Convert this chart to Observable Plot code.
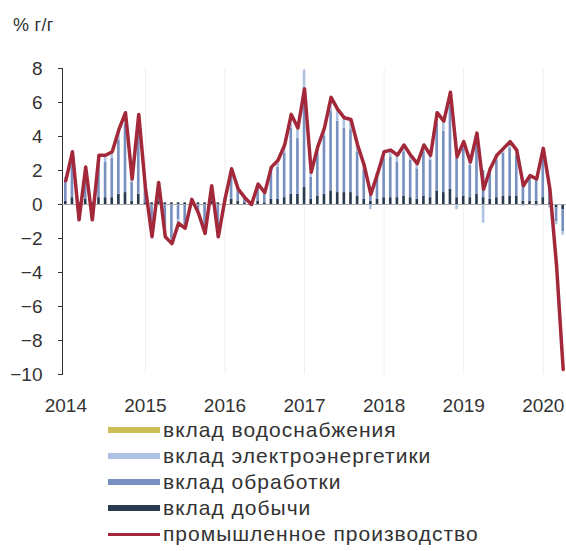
<!DOCTYPE html>
<html>
<head>
<meta charset="utf-8">
<script src="https://cdn.jsdelivr.net/npm/d3@7"></script>
<script src="https://cdn.jsdelivr.net/npm/@observablehq/plot@0.6"></script>
<style>
  html, body { margin: 0; padding: 0; background: #fff; }
  body { width: 566px; height: 551px; position: relative; overflow: hidden;
         font-family: "Liberation Sans", Arial, sans-serif; color: #333; }
  #unit { position: absolute; left: 13px; top: 15px; font-size: 18px; color: #333; letter-spacing: 0.3px; }
  #legend { position: absolute; left: 108px; top: 417px; }
  .row { height: 26px; display: flex; align-items: center; font-size: 21px; letter-spacing: 1px; color: #333; white-space: nowrap; }
  .sw { width: 52px; height: 6px; margin-right: 3px; flex: none; }
  .ln { width: 52px; height: 3px; margin-right: 3px; flex: none; }
</style>
</head>
<body>
<div id="chart"></div>
<div id="unit">% г/г</div>
<div id="legend"></div>
<script>
// Months Jan 2014 – Apr 2020
const years = ["2014","2015","2016","2017","2018","2019","2020"];
const months = [];
for (const y of years) for (let m = 1; m <= 12; m++) {
  if (y === "2020" && m > 4) break;
  months.push(y + "-" + String(m).padStart(2, "0"));
}
const yearTicks = years.map(y => y + "-01");
const yTicks = [-10, -8, -6, -4, -2, 0, 2, 4, 6, 8];

// Industrial production, % y/y (red line)
const industry = [
  1.4, 3.1, -0.9, 2.2, -0.9, 2.9, 2.9, 3.1, 4.4, 5.4, 1.5, 5.3,
  1.0, -1.9, 1.3, -1.9, -2.3, -1.1, -1.4, 0.3, -0.5, -1.7, 1.1, -1.9,
  0.3, 2.1, 0.9, 0.4, 0.0, 1.2, 0.7, 2.2, 2.6, 3.5, 5.3, 4.5,
  6.8, 1.9, 3.4, 4.5, 6.3, 5.6, 5.1, 5.0, 3.5, 2.3, 0.6, 1.8,
  3.1, 3.2, 2.9, 3.5, 2.9, 2.4, 3.5, 2.9, 5.4, 4.9, 6.6, 2.8,
  3.7, 2.5, 4.2, 0.9, 2.1, 2.9, 3.3, 3.7, 3.2, 1.1, 1.7, 1.5,
  3.3, 0.9, -3.6, -9.7
];
// Contribution of mining, p.p.
const mining = [
  0.2, 0.4, 0.1, 0.3, 0.1, 0.4, 0.4, 0.4, 0.6, 0.7, 0.2, 0.6,
  0.1, 0.1, 0.2, 0.1, 0.1, 0.1, 0.1, 0.1, 0.1, 0.1, 0.2, 0.1,
  0.2, 0.3, 0.2, 0.1, 0.1, 0.2, 0.1, 0.3, 0.3, 0.4, 0.6, 0.6,
  1.0, 0.3, 0.5, 0.6, 0.8, 0.7, 0.7, 0.7, 0.5, 0.3, 0.2, 0.3,
  0.4, 0.4, 0.4, 0.5, 0.4, 0.3, 0.5, 0.4, 0.8, 0.7, 0.9, 0.4,
  0.5, 0.4, 0.6, 0.4, 0.3, 0.4, 0.5, 0.5, 0.5, 0.2, 0.2, 0.2,
  0.4, 0.1, -0.2, -0.3
];
// Contribution of manufacturing, p.p.
const manufacturing = [
  1.2, 2.3, -0.7, 1.6, -0.7, 2.1, 2.1, 2.3, 3.2, 4.0, 1.1, 3.9,
  0.7, -1.6, 0.9, -1.7, -2.0, -0.9, -1.2, 0.2, -0.4, -1.5, 0.7, -1.7,
  0.1, 1.5, 0.6, 0.3, 0.0, 0.8, 0.5, 1.6, 1.9, 2.6, 3.9, 3.3,
  5.9, 1.3, 2.5, 3.4, 4.7, 4.2, 3.8, 3.7, 2.6, 1.7, 0.7, 1.3,
  2.3, 2.4, 2.1, 2.6, 2.2, 1.8, 2.6, 2.2, 4.0, 3.6, 4.9, 2.3,
  2.8, 1.9, 3.1, 1.6, 1.6, 2.2, 2.5, 2.8, 2.4, 1.0, 1.4, 1.4,
  2.7, 1.0, -0.8, -1.3
];
// Contribution of electricity, p.p.
const electricity = [
  0.2, 0.3, -0.3, 0.2, -0.3, 0.3, 0.3, 0.3, 0.5, 0.6, 0.2, 0.7,
  0.2, -0.3, 0.2, -0.2, -0.3, -0.2, -0.2, 0.0, -0.2, -0.2, 0.2, -0.3,
  0.0, 0.3, 0.1, 0.0, -0.1, 0.2, 0.1, 0.3, 0.3, 0.4, 0.7, 0.5,
  1.0, 0.3, 0.3, 0.4, 0.7, 0.6, 0.5, 0.5, 0.3, 0.3, -0.3, 0.3,
  0.4, 0.4, 0.4, 0.4, 0.3, 0.3, 0.4, 0.3, 0.5, 0.5, 0.7, -0.3,
  0.4, 0.2, 0.4, -1.1, 0.2, 0.3, 0.3, 0.4, 0.3, -0.1, 0.1, -0.1,
  0.2, -0.2, -0.2, -0.2
];
// Contribution of water supply, p.p.
const water = [
  0.0, 0.1, 0.0, 0.1, 0.0, 0.1, 0.1, 0.1, 0.1, 0.1, 0.0, 0.1,
  0.0, 0.0, 0.0, 0.0, 0.0, 0.0, 0.0, 0.0, 0.0, 0.0, 0.0, 0.0,
  0.0, 0.0, 0.0, 0.0, 0.0, 0.0, 0.0, 0.0, 0.1, 0.1, 0.1, 0.1,
  0.0, 0.0, 0.1, 0.1, 0.1, 0.1, 0.1, 0.1, 0.1, 0.0, 0.0, 0.0,
  0.0, 0.0, 0.0, 0.0, 0.0, 0.0, 0.0, 0.0, 0.1, 0.1, 0.1, 0.0,
  0.0, 0.0, 0.1, 0.0, 0.0, 0.0, 0.0, 0.0, 0.0, 0.0, 0.0, 0.0,
  0.0, 0.0, 0.0, 0.0
];

const seriesNames = ["вклад добычи", "вклад обработки", "вклад электроэнергетики", "вклад водоснабжения"];
const seriesColors = ["#2a3a4f", "#7890c0", "#aec3e2", "#cdbd55"];
const lineName = "промышленное производство";
const lineColor = "#a3283a";

const stackRows = [];
months.forEach((m, i) => {
  [mining, manufacturing, electricity, water].forEach((arr, k) => {
    stackRows.push({month: m, series: seriesNames[k], value: arr[i]});
  });
});
const lineRows = months.map((m, i) => ({month: m, value: industry[i]}));

const chart = Plot.plot({
  width: 566,
  height: 418,
  marginLeft: 62,
  marginRight: 0,
  marginTop: 68,
  marginBottom: 44,
  style: {fontFamily: "'Liberation Sans', Arial, sans-serif", fontSize: "19px", color: "#333", background: "#fff"},
  x: {type: "band", domain: months, padding: 0, ticks: yearTicks, tickFormat: d => d.slice(0, 4), tickSize: 0, tickPadding: 24, label: null},
  y: {domain: [-10, 8], ticks: yTicks, tickSize: 4, tickPadding: 16, label: null, line: true},
  color: {domain: seriesNames, range: seriesColors},
  marks: [
    Plot.ruleX(yearTicks.slice(1), {x: d => d, stroke: "#efefef", strokeWidth: 1}),
    Plot.barY(stackRows, Plot.stackY({x: "month", y: "value", fill: "series", insetLeft: 2, insetRight: 2})),
    Plot.ruleY([0], {stroke: "#aaa", strokeWidth: 1}),
    Plot.line(lineRows, {x: "month", y: "value", stroke: lineColor, strokeWidth: 3.5, strokeLinejoin: "round"})
  ]
});
document.getElementById("chart").appendChild(chart);

const legend = document.getElementById("legend");
const items = [
  {name: "вклад водоснабжения", color: seriesColors[3], type: "sw"},
  {name: "вклад электроэнергетики", color: seriesColors[2], type: "sw"},
  {name: "вклад обработки", color: seriesColors[1], type: "sw"},
  {name: "вклад добычи", color: seriesColors[0], type: "sw"},
  {name: lineName, color: lineColor, type: "ln"}
];
for (const it of items) {
  const row = document.createElement("div");
  row.className = "row";
  const s = document.createElement("span");
  s.className = it.type;
  s.style.background = it.color;
  const t = document.createElement("span");
  t.textContent = it.name;
  row.appendChild(s);
  row.appendChild(t);
  legend.appendChild(row);
}
</script>
</body>
</html>
